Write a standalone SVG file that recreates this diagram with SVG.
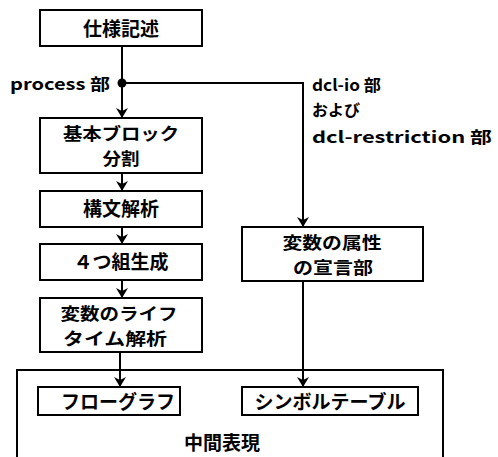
<svg xmlns="http://www.w3.org/2000/svg" width="498" height="457" viewBox="0 0 498 457">
<style>
.box{fill:#fff;stroke:#000;stroke-width:2}
.t{font-family:"Noto Sans CJK JP","Noto Sans",sans-serif;font-size:19px;font-weight:bold;text-anchor:middle;fill:#000}
.t2{font-family:"Noto Sans CJK JP","Noto Sans",sans-serif;font-size:17px;font-weight:bold;text-anchor:middle;fill:#000}
.lbl{font-family:"Noto Sans CJK JP","Noto Sans",sans-serif;font-size:16px;font-weight:bold;fill:#000}
.c{fill:none;stroke:#000;stroke-width:2}
</style>
<defs>
<marker id="ah" viewBox="0 0 10 14" refX="10" refY="7" markerWidth="10" markerHeight="14" markerUnits="userSpaceOnUse" orient="auto">
<path d="M0,1 L10,7 L0,13 L3,7 Z" fill="#000"/>
</marker>
</defs>
<g id="outer">
<path class="box" d="M17,460 L17,370 L443,370 L443,460"/>
<text class="t" x="222" y="450">中間表現</text>
</g>
<g id="spec">
<rect class="box" x="40" y="10" width="162" height="36"/>
<text class="t" x="121" y="36">仕様記述</text>
</g>
<g id="block">
<rect class="box" x="40" y="118" width="162" height="55"/>
<text class="t2" x="121" y="140" textLength="116" lengthAdjust="spacingAndGlyphs">基本ブロック</text>
<text class="t2" x="121" y="165" textLength="37" lengthAdjust="spacingAndGlyphs">分割</text>
</g>
<g id="parse">
<rect class="box" x="40" y="191" width="162" height="36"/>
<text class="t" x="121" y="216">構文解析</text>
</g>
<g id="quad">
<rect class="box" x="40" y="244" width="162" height="36"/>
<text class="t" x="121" y="269">４つ組生成</text>
</g>
<g id="life">
<rect class="box" x="40" y="298" width="162" height="54"/>
<text class="t2" x="119" y="320" textLength="117" lengthAdjust="spacingAndGlyphs">変数のライフ</text>
<text class="t2" x="115" y="345" textLength="104" lengthAdjust="spacingAndGlyphs">タイム解析</text>
</g>
<g id="decl">
<rect class="box" x="242" y="227" width="181" height="54"/>
<text class="t2" x="332" y="249" textLength="99" lengthAdjust="spacingAndGlyphs">変数の属性</text>
<text class="t2" x="333" y="274" textLength="80" lengthAdjust="spacingAndGlyphs">の宣言部</text>
</g>
<g id="flow">
<rect class="box" x="38" y="387" width="142" height="28"/>
<text class="t" x="118" y="409">フローグラフ</text>
</g>
<g id="symtab">
<rect class="box" x="242" y="387" width="176" height="28"/>
<text class="t" x="330" y="409">シンボルテーブル</text>
</g>
<g id="connectors">
<line class="c" x1="122" y1="46" x2="122" y2="118" marker-end="url(#ah)"/>
<polyline class="c" points="122,83 303,83 303,227" marker-end="url(#ah)"/>
<circle cx="122" cy="83" r="4.5" fill="#000"/>
<line class="c" x1="122" y1="173" x2="122" y2="191" marker-end="url(#ah)"/>
<line class="c" x1="122" y1="227" x2="122" y2="244" marker-end="url(#ah)"/>
<line class="c" x1="122" y1="280" x2="122" y2="298" marker-end="url(#ah)"/>
<line class="c" x1="120" y1="352" x2="120" y2="387" marker-end="url(#ah)"/>
<line class="c" x1="303" y1="281" x2="303" y2="387" marker-end="url(#ah)"/>
</g>
<g id="labels">
<text class="lbl" x="10" y="90" textLength="100" lengthAdjust="spacingAndGlyphs">process 部</text>
<text class="lbl" x="312" y="91" textLength="69" lengthAdjust="spacingAndGlyphs">dcl-io 部</text>
<text class="lbl" x="312" y="116">および</text>
<text class="lbl" x="312" y="143" textLength="180" lengthAdjust="spacingAndGlyphs">dcl-restriction 部</text>
</g>
</svg>
